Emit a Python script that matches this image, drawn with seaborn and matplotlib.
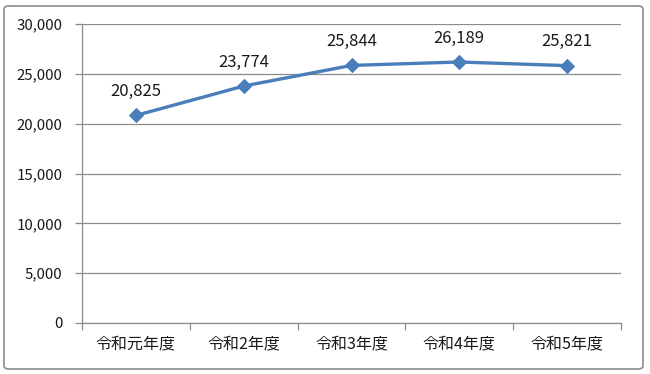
import matplotlib
matplotlib.use("Agg")
import matplotlib.pyplot as plt
import seaborn as sns
import pandas as pd
from matplotlib.patches import FancyBboxPatch
from matplotlib.ticker import FuncFormatter, FixedLocator

categories = ["令和元年度", "令和2年度", "令和3年度", "令和4年度", "令和5年度"]
values = [20825, 23774, 25844, 26189, 25821]
y_ticks = [0, 5000, 10000, 15000, 20000, 25000, 30000]

sns.set_theme(style="white")
plt.rcParams['font.family'] = ['Noto Sans CJK JP', 'DejaVu Sans']

df = pd.DataFrame({"x": range(len(categories)), "value": values, "cat": categories})

fig = plt.figure(figsize=(6.5, 3.74), dpi=100)
ax = fig.add_axes([82/650, 1-323/374, (621-82)/650, (323-24)/374])

border = FancyBboxPatch((4/650, 5/374), 639/650, 363/374,
                        boxstyle="round,pad=0,rounding_size=0.008",
                        transform=fig.transFigure, fill=False,
                        edgecolor="#8c8c8c", linewidth=1.2)
fig.patches.append(border)

for t in y_ticks:
    ax.axhline(t, color="#8c8c8c", linewidth=0.9, zorder=0)

sns.lineplot(data=df, x="x", y="value", ax=ax, color="#4a7ebb", linewidth=2.4,
             marker="D", markersize=7.5, markeredgecolor="#4a7ebb", zorder=3)

for i, v in enumerate(values):
    ax.annotate(f"{v:,}", (i, v), xytext=(0, 11), textcoords="offset points",
                ha="center", va="bottom", fontsize=12, color="#1a1a1a")

ax.set_xlim(-0.5, len(categories) - 0.5)
ax.set_ylim(0, 30000)
ax.set_yticks(y_ticks)
ax.yaxis.set_major_formatter(FuncFormatter(lambda v, p: f"{int(v):,}"))
ax.set_xticks(range(len(categories)))
ax.set_xticklabels(categories)
ax.xaxis.set_minor_locator(FixedLocator([i - 0.5 for i in range(len(categories) + 1)]))
ax.tick_params(axis="x", which="major", length=0, pad=9, labelsize=11.5, labelcolor="#1a1a1a")
ax.tick_params(axis="x", which="minor", bottom=True, length=5, color="#8c8c8c", width=0.9)
ax.tick_params(axis="y", left=True, length=5, color="#8c8c8c", width=0.9, pad=9,
               labelsize=10.8, labelcolor="#1a1a1a")
ax.set_xlabel("")
ax.set_ylabel("")

for s in ["top", "right"]:
    ax.spines[s].set_visible(False)
for s in ["left", "bottom"]:
    ax.spines[s].set_color("#8c8c8c")
    ax.spines[s].set_linewidth(0.9)

fig.savefig("out.png", dpi=100)
